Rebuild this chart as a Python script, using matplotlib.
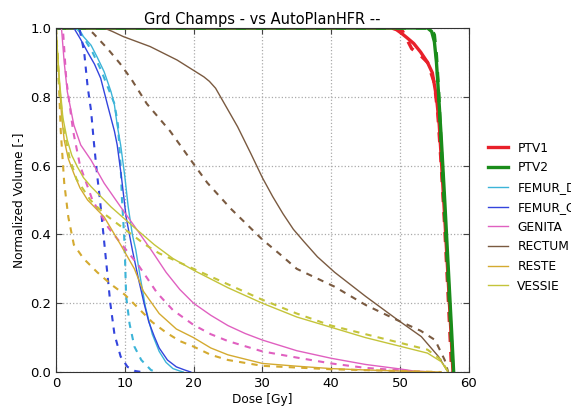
import matplotlib
matplotlib.use("Agg")
import matplotlib.pyplot as plt
import numpy as np

# DVH curves: solid = Grd Champs, dashed = AutoPlanHFR
names = ["PTV1", "PTV2", "FEMUR_D", "FEMUR_G", "GENITA", "RECTUM", "RESTE", "VESSIE"]
colors = ["#e8202a", "#1a8c1a", "#3cb4d8", "#3344dd", "#e060c0", "#7a5a40", "#d4aa30", "#c4c43a"]

ptv1_dose = [0, 48.8, 49.5, 50.2, 51, 52, 53, 54, 54.7, 55.3, 55.7, 56, 56.5, 57, 57.5, 57.7]
ptv1_vol = [1.0, 1.0, 0.995, 0.985, 0.972, 0.955, 0.93, 0.9, 0.87, 0.8, 0.72, 0.62, 0.45, 0.27, 0.08, 0.0]
ptv1_dose_b = [0, 50, 50.4, 50.8, 51.7, 53, 54, 55, 55.5, 56, 56.5, 57, 57.4, 57.5]
ptv1_vol_b = [1.0, 1.0, 0.99, 0.975, 0.94, 0.92, 0.9, 0.84, 0.75, 0.6, 0.42, 0.22, 0.05, 0.0]

ptv2_dose = [0, 54, 54.6, 55, 55.3, 55.6, 56, 56.5, 57, 57.5, 57.8]
ptv2_vol = [1.0, 1.0, 0.99, 0.96, 0.9, 0.81, 0.68, 0.5, 0.31, 0.12, 0.0]
ptv2_dose_b = [0, 54.5, 55, 55.3, 55.6, 56, 56.5, 57, 57.5, 57.7]
ptv2_vol_b = [1.0, 1.0, 0.98, 0.92, 0.82, 0.65, 0.46, 0.27, 0.08, 0.0]

femd_dose = [0, 2.9, 4, 5.1, 6, 7.0, 8.0, 8.5, 8.9, 9.4, 10, 10.5, 11.1, 11.6, 12.3, 13, 14, 15, 16, 17, 18, 18.5]
femd_vol = [1.0, 1.0, 0.975, 0.95, 0.915, 0.873, 0.815, 0.776, 0.718, 0.66, 0.57, 0.48, 0.4, 0.355, 0.27, 0.19, 0.11, 0.06, 0.028, 0.01, 0.003, 0.0]
femd_dose_b = [0, 3.2, 4.1, 5.3, 6.5, 7.5, 8.5, 9.0, 9.4, 9.6, 9.9, 10.0, 10.2, 10.7, 11.4, 12.4, 13.8, 14.5]
femd_vol_b = [1.0, 1.0, 0.97, 0.93, 0.88, 0.83, 0.78, 0.72, 0.6, 0.5, 0.4, 0.355, 0.22, 0.14, 0.074, 0.035, 0.006, 0.0]

femg_dose = [0, 2.6, 3.5, 4.6, 5.6, 6.5, 7.5, 8.5, 8.9, 9.5, 10.2, 11.1, 12, 12.8, 13.5, 14.3, 15, 16.2, 17.5, 18.7, 19.6]
femg_vol = [1.0, 1.0, 0.97, 0.93, 0.895, 0.854, 0.776, 0.7, 0.66, 0.57, 0.45, 0.355, 0.27, 0.2, 0.145, 0.103, 0.07, 0.035, 0.015, 0.006, 0.0]
femg_dose_b = [0, 3.4, 4.1, 4.6, 5.1, 5.5, 6.0, 6.4, 6.9, 7.4, 7.9, 8.5, 9.4, 10.4, 11.5, 12.5]
femg_vol_b = [1.0, 1.0, 0.93, 0.83, 0.76, 0.67, 0.57, 0.5, 0.4, 0.3, 0.2, 0.11, 0.045, 0.015, 0.003, 0.0]

gen_dose = [0, 0.8, 1.2, 1.65, 2.6, 3.6, 5.1, 7.0, 9.4, 11.9, 14, 16, 18, 20, 22.5, 25, 27.5, 30, 35, 40, 45, 50, 52, 55]
gen_vol = [1.0, 1.0, 0.9, 0.815, 0.718, 0.66, 0.616, 0.549, 0.48, 0.41, 0.35, 0.29, 0.24, 0.2, 0.165, 0.135, 0.112, 0.093, 0.062, 0.04, 0.022, 0.009, 0.003, 0.0]
gen_dose_b = [0, 1, 1.5, 2.5, 3.5, 5.3, 7.6, 10, 12, 14.7, 17, 20, 22.5, 25, 30, 35, 40, 45, 50, 53]
gen_vol_b = [1.0, 1.0, 0.85, 0.7, 0.6, 0.5, 0.42, 0.36, 0.31, 0.23, 0.18, 0.137, 0.11, 0.09, 0.06, 0.042, 0.025, 0.012, 0.005, 0.0]

rec_dose = [0, 7, 8.2, 9.8, 13.7, 17.6, 21.5, 22.3, 23.2, 26.4, 28.3, 30, 31.5, 33, 34.5, 36, 38, 40.5, 45, 49.7, 53.1, 55.6, 56.8, 57]
rec_vol = [1.0, 1.0, 0.99, 0.975, 0.946, 0.907, 0.858, 0.845, 0.825, 0.713, 0.636, 0.565, 0.51, 0.46, 0.415, 0.38, 0.335, 0.29, 0.22, 0.151, 0.103, 0.045, 0.006, 0.0]
rec_dose_b = [0, 4.5, 5.4, 7.5, 9.3, 11, 13.2, 16.6, 20, 22, 25.4, 30, 32.7, 35, 40.5, 45, 49.7, 53, 55.1, 56.5, 57]
rec_vol_b = [1.0, 1.0, 0.985, 0.94, 0.897, 0.85, 0.78, 0.7, 0.605, 0.55, 0.475, 0.385, 0.34, 0.3, 0.248, 0.195, 0.15, 0.12, 0.093, 0.035, 0.0]

res_dose = [0, 0.3, 0.8, 1.2, 1.8, 2.6, 3.5, 4.6, 7.0, 9.4, 11.4, 12.7, 15, 17.5, 20, 22.5, 25, 30, 35, 40, 45, 50, 56]
res_vol = [1.0, 0.9, 0.75, 0.674, 0.62, 0.577, 0.535, 0.5, 0.451, 0.37, 0.3, 0.235, 0.17, 0.125, 0.1, 0.07, 0.05, 0.025, 0.017, 0.01, 0.006, 0.003, 0.0]
res_dose_b = [0, 0.3, 0.7, 1.2, 1.8, 2.6, 4, 6, 8, 10, 12, 14, 16, 18, 20, 22.5, 25, 30, 40, 50, 56]
res_vol_b = [1.0, 0.9, 0.7, 0.55, 0.45, 0.37, 0.33, 0.29, 0.255, 0.225, 0.185, 0.145, 0.115, 0.09, 0.074, 0.05, 0.035, 0.018, 0.008, 0.003, 0.0]

ves_dose = [0, 0.5, 1.0, 1.65, 2.3, 3.1, 4, 5.1, 8.0, 11.4, 14.3, 17, 20, 25, 30, 35, 40, 45, 50, 54, 56, 57]
ves_vol = [1.0, 0.85, 0.74, 0.674, 0.63, 0.597, 0.565, 0.539, 0.48, 0.42, 0.37, 0.33, 0.296, 0.245, 0.2, 0.16, 0.13, 0.1, 0.075, 0.055, 0.03, 0.0]
ves_dose_b = [0, 0.4, 1, 2, 3, 5, 7, 9, 11, 13, 15, 20, 25, 30, 35, 40, 45, 50, 54, 56, 57]
ves_vol_b = [1.0, 0.85, 0.72, 0.62, 0.56, 0.5, 0.46, 0.43, 0.4, 0.37, 0.345, 0.3, 0.255, 0.21, 0.17, 0.135, 0.11, 0.085, 0.065, 0.035, 0.0]

plan_a = [(ptv1_dose, ptv1_vol), (ptv2_dose, ptv2_vol), (femd_dose, femd_vol), (femg_dose, femg_vol),
          (gen_dose, gen_vol), (rec_dose, rec_vol), (res_dose, res_vol), (ves_dose, ves_vol)]
plan_b = [(ptv1_dose_b, ptv1_vol_b), (ptv2_dose_b, ptv2_vol_b), (femd_dose_b, femd_vol_b), (femg_dose_b, femg_vol_b),
          (gen_dose_b, gen_vol_b), (rec_dose_b, rec_vol_b), (res_dose_b, res_vol_b), (ves_dose_b, ves_vol_b)]

plt.rcParams["xtick.direction"] = "in"
plt.rcParams["ytick.direction"] = "in"
plt.rcParams["xtick.top"] = True
plt.rcParams["ytick.right"] = True

fig = plt.figure(figsize=(5.71, 4.12), dpi=100)
ax = fig.add_axes([0.098, 0.097, 0.723, 0.835])

for i, name in enumerate(names):
    lw = 2.4 if name.startswith("PTV") else 1.0
    ax.plot(plan_a[i][0], plan_a[i][1], color=colors[i], lw=lw, label=name)
    ax.plot(plan_b[i][0], plan_b[i][1], color=colors[i], lw=lw if lw > 2 else 1.5, ls="--", dashes=(3, 3))

ax.set_xlim(0, 60)
ax.set_ylim(0, 1.0)
ax.set_xticks([0, 10, 20, 30, 40, 50, 60])
ax.set_yticks([0.0, 0.2, 0.4, 0.6, 0.8, 1.0])
ax.set_yticklabels(["0.0", "0.2", "0.4", "0.6", "0.8", "1.0"])
ax.tick_params(labelsize=9.5, length=4, color="#444444")
ax.grid(True, ls=":", color="#aaaaaa", lw=0.9)
for s in ax.spines.values():
    s.set_color("#333333")

ax.set_xlabel("Dose [Gy]", fontsize=8.7, labelpad=2)
ax.set_ylabel("Normalized Volume [-]", fontsize=8.7)
ax.set_title("Grd Champs - vs AutoPlanHFR --", fontsize=10.5, pad=3)
ax.legend(loc="center left", bbox_to_anchor=(1.02, 0.45), frameon=False, fontsize=8.8,
          handlelength=1.6, handletextpad=0.8, labelspacing=0.55)

fig.savefig("out.png", dpi=100)
